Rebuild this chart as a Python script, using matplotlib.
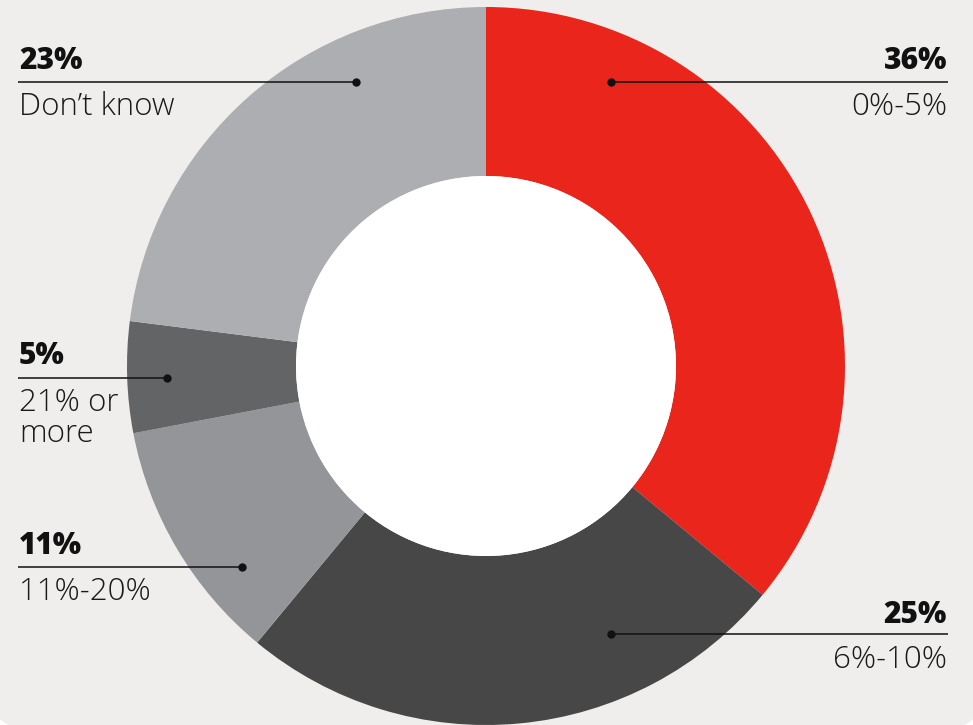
import matplotlib
matplotlib.use("Agg")
import matplotlib.pyplot as plt
from matplotlib.patches import FancyBboxPatch, Circle

# data
shares = [36, 25, 11, 5, 23]
pct_labels = ["36%", "25%", "11%", "5%", "23%"]
cat_labels = ["0%-5%", "6%-10%", "11%-20%", "21% or\nmore", "Don\u2019t know"]
colors = ["#e9251c", "#474747", "#939598", "#636466", "#adaeb1"]

W, H = 973, 725
BG = "#efeeec"

fig = plt.figure(figsize=(W / 100, H / 100), dpi=100)
fig.patch.set_facecolor("white")
ax = fig.add_axes([0, 0, 1, 1])

# panel background with rounded bottom corners
panel = FancyBboxPatch((-25, -10), W + 50, H + 100,
                       boxstyle="round,pad=0,rounding_size=80",
                       facecolor=BG, edgecolor="none", zorder=0)
ax.add_patch(panel)

# donut
cx, cy, r, ring = 486, H - 366, 359, 169
ax.pie(shares, colors=colors, startangle=90, counterclock=False,
       center=(cx, cy), radius=r, frame=True,
       wedgeprops=dict(width=ring, edgecolor="none", linewidth=0, zorder=2))
ax.add_patch(Circle((cx, cy), r - ring, facecolor="white", edgecolor="none", zorder=3))
ax.set_xlim(0, W)
ax.set_ylim(0, H)
ax.set_aspect("equal")
ax.axis("off")

# label layout (pixel coords from top): x_text, y_pct_baseline, y_line, y_cat_baseline, dot_x, side
layout = [
    (947, 69, 82, 115, 611, "right"),
    (947, 623, 634, 668, 611, "right"),
    (19, 554, 567, 600, 242, "left"),
    (19, 364, 378, 411, 167, "left"),
    (19, 69, 82, 115, 356, "left"),
]

fam = ["Open Sans", "DejaVu Sans"]
for p, c, (tx, yp, yl, yc, dx, side) in zip(pct_labels, cat_labels, layout):
    ax.text(tx, H - yp, p, ha=side, va="baseline", fontsize=21.5,
            fontweight="heavy", color="#111111", family=fam, zorder=5)
    lines = c.split("\n")
    for i, s in enumerate(lines):
        ax.text(tx, H - yc - i * 31, s, ha=side, va="baseline", fontsize=22.5,
                fontweight="light", color="#1a1a1a", family=fam, zorder=5)
    if side == "left":
        x0, x1 = 18, dx
    else:
        x0, x1 = dx, 948
    ax.plot([x0, x1], [H - yl, H - yl], color="#111111", lw=1.1, zorder=4,
            solid_capstyle="butt")
    ax.plot([dx], [H - yl], "o", color="#111111", markersize=5, zorder=4)

plt.savefig("out.png", dpi=100, facecolor=fig.get_facecolor())
